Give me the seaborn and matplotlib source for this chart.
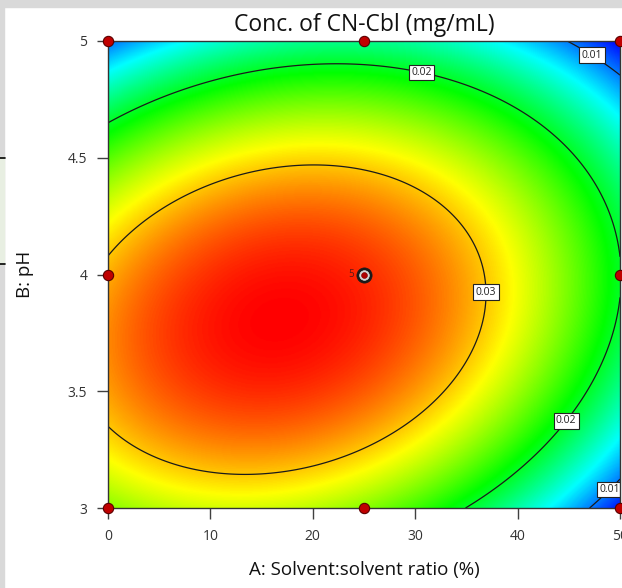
import numpy as np
import matplotlib
matplotlib.use("Agg")
import matplotlib.pyplot as plt
from matplotlib.colors import LinearSegmentedColormap
from matplotlib.patches import Rectangle
from matplotlib.lines import Line2D
import seaborn as sns

# ---------------- data ----------------
# Quadratic response-surface model in coded factors
# x = (A - 25) / 25 , y = (B - 4) / 1
model_terms = ["Intercept", "A", "B", "AB", "A^2", "B^2"]
model_coefs = [0.0345, -0.0053, -0.0040, 0.0037, -0.0091, -0.0135]

a_range = [0, 50]
b_range = [3, 5]
contour_levels = [0.01, 0.02, 0.03]

design_A = [0, 25, 50, 0, 50, 0, 25, 50]
design_B = [3, 3, 3, 4, 4, 5, 5, 5]
center_A = [25]
center_B = [4]
center_reps = ["5"]

x_ticks = [0, 10, 20, 30, 40, 50]
x_tick_labels = ["0", "10", "20", "30", "40", "50"]
y_ticks = [3, 3.5, 4, 4.5, 5]
y_tick_labels = ["3", "3.5", "4", "4.5", "5"]

title = "Conc. of CN-Cbl (mg/mL)"
xlabel = "A: Solvent:solvent ratio (%)"
ylabel = "B: pH"

# ---------------- style ----------------
sns.set_theme(style="white")
plt.rcParams["font.family"] = ["Open Sans", "DejaVu Sans"]

W, H = 622, 588
fig = plt.figure(figsize=(W / 100, H / 100), dpi=100)
fig.patch.set_facecolor("white")

# screenshot frame remnants
fig.add_artist(Rectangle((0, 1 - 7 / H), 1, 7 / H, transform=fig.transFigure,
                         color="#d9d9d9", zorder=0))
fig.add_artist(Rectangle((0, 0), 4 / W, 1, transform=fig.transFigure,
                         color="#d9d9d9", zorder=0))
fig.add_artist(Rectangle((0, (H - 264) / H), 4 / W, 107 / H, transform=fig.transFigure,
                         color="#e8efe2", zorder=1))
for yy in (158, 264):
    fig.add_artist(Line2D([0, 5 / W], [(H - yy) / H] * 2, transform=fig.transFigure,
                          color="black", lw=1.2, zorder=2))

ax = fig.add_axes([108 / W, (H - 508) / H, 512 / W, 467 / H])

# surface
A = np.linspace(a_range[0], a_range[1], 500)
B = np.linspace(b_range[0], b_range[1], 500)
AA, BB = np.meshgrid(A, B)
x = (AA - 25) / 25
y = BB - 4
c = model_coefs
Z = c[0] + c[1] * x + c[2] * y + c[3] * x * y + c[4] * x ** 2 + c[5] * y ** 2

cmap = LinearSegmentedColormap.from_list(
    "de", ["#0000ff", "#00ffff", "#00ff00", "#ffff00", "#ff0000"])
ax.imshow(Z, extent=[a_range[0], a_range[1], b_range[0], b_range[1]], origin="lower",
          aspect="auto", cmap=cmap, vmin=Z.min(), vmax=Z.max(), interpolation="bilinear",
          zorder=1)

cs = ax.contour(AA, BB, Z, levels=contour_levels, colors="#1a1a1a", linewidths=0.9, zorder=2)
label_pos = [(30.7, 4.884), (37.0, 3.925), (44.4, 3.385), (47.5, 4.955), (48.5, 3.10)]
texts = ax.clabel(cs, fmt="%.2f", fontsize=7.5, inline=False, manual=label_pos)
for t in texts:
    t.set_rotation(0)
    t.set_color("#222222")
    t.set_zorder(4)
    t.set_bbox(dict(boxstyle="square,pad=0.22", fc="white", ec="#222222", lw=0.8))

# design points
sns.scatterplot(x=design_A, y=design_B, ax=ax, s=55, color="#c00000",
                edgecolor="#5a0000", linewidth=0.8, clip_on=False, zorder=6, legend=False)
sns.scatterplot(x=center_A, y=center_B, ax=ax, s=120, color="#1a1a1a",
                edgecolor="#1a1a1a", linewidth=0.5, clip_on=False, zorder=6, legend=False)
sns.scatterplot(x=center_A, y=center_B, ax=ax, s=48, color="#d8d8d8",
                edgecolor="#d8d8d8", linewidth=0.5, clip_on=False, zorder=7, legend=False)
sns.scatterplot(x=center_A, y=center_B, ax=ax, s=18, color="#b00000",
                edgecolor="#7a0000", linewidth=0.4, clip_on=False, zorder=8, legend=False)
for a, b, r in zip(center_A, center_B, center_reps):
    ax.text(a - 1.0, b, r, ha="right", va="center", fontsize=7, color="#5a1a1a", zorder=8)

ax.set_xlim(a_range)
ax.set_ylim(b_range)
ax.set_xticks(x_ticks)
ax.set_xticklabels(x_tick_labels)
ax.set_yticks(y_ticks)
ax.set_yticklabels(y_tick_labels)
ax.tick_params(axis="both", which="both", bottom=True, left=True, direction="out",
               length=8, width=1, color="#404040", labelsize=10, labelcolor="#333333", pad=7)
for s in ax.spines.values():
    s.set_color("#333333")
    s.set_linewidth(1)
    s.set_zorder(5)

ax.set_title(title, fontsize=16.5, color="#111111", pad=7.5)
ax.set_xlabel(xlabel, fontsize=13.5, color="#111111", labelpad=12.5)
ax.set_ylabel(ylabel, fontsize=13.5, color="#111111", labelpad=24)

fig.savefig("out.png", dpi=100)
